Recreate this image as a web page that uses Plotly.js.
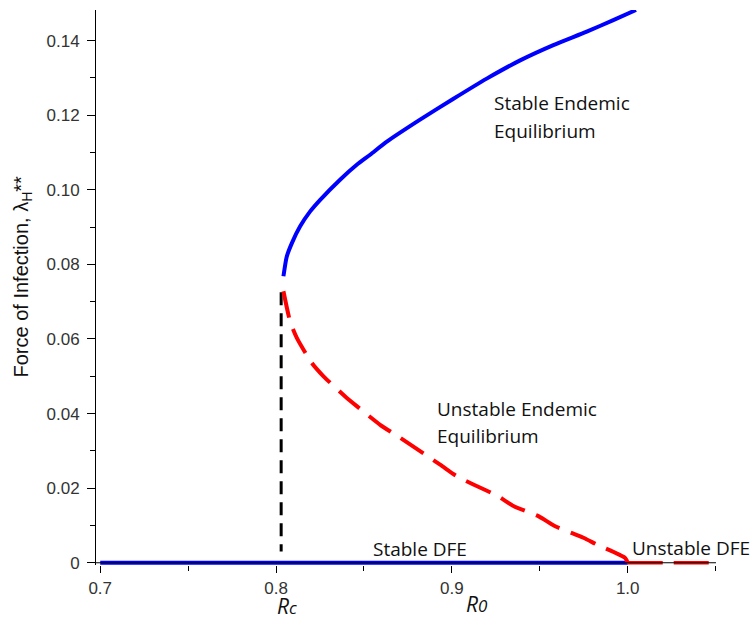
<!DOCTYPE html>
<html>
<head>
<meta charset="utf-8">
<script src="https://cdn.plot.ly/plotly-3.0.1.min.js"></script>
<style>html,body{margin:0;padding:0;background:#fff;}#chart{width:755px;height:619px;}</style>
</head>
<body>
<div id="chart"></div>
<script>
// Stable endemic equilibrium branch (R0, lambda_H**)
const stableR0  = [0.8042, 0.8061, 0.8090, 0.8137, 0.8194, 0.8251, 0.8364, 0.8459, 0.8535, 0.8630, 0.8819, 0.9009, 0.9198, 0.9388, 0.9577, 0.9767, 0.9918, 1.0047];
const stableLam = [0.0768, 0.0821, 0.0857, 0.0902, 0.0942, 0.0973, 0.1027, 0.1067, 0.1094, 0.1129, 0.1188, 0.1244, 0.1298, 0.1347, 0.1388, 0.1424, 0.1455, 0.1482];
// Unstable endemic equilibrium branch
const unstableR0  = [0.8042, 0.8080, 0.8118, 0.8203, 0.8270, 0.8393, 0.8459, 0.8592, 0.8706, 0.8933, 0.9028, 0.9122, 0.9264, 0.9350, 0.9492, 0.9587, 0.9748, 0.9824, 0.9985, 1.0];
const unstableLam = [0.0728, 0.0647, 0.0603, 0.0536, 0.0500, 0.0446, 0.0420, 0.0370, 0.0335, 0.0263, 0.0232, 0.0210, 0.0178, 0.0152, 0.0125, 0.0098, 0.0067, 0.0049, 0.0013, 0.0];
// Disease-free equilibrium
const dfeStableR0    = [0.7, 1.0];
const dfeStableLam   = [0, 0];
const dfeUnstableR0  = [1.0, 1.05];
const dfeUnstableLam = [0, 0];
// Critical value Rc marker line
const rcR0  = [0.8029, 0.8029];
const rcLam = [0.0725, 0.003];
// Ticks
const xTickVals = [0.7, 0.8, 0.9, 1.0];
const xTickText = ["0.7", "0.8", "0.9", "1.0"];
const yTickVals = [0, 0.02, 0.04, 0.06, 0.08, 0.10, 0.12, 0.14];
const yTickText = ["0", "0.02", "0.04", "0.06", "0.08", "0.10", "0.12", "0.14"];
// Labels
const yTitle = "Force of Infection, λ<sub>H</sub>**";
const labelStableEE = ["Stable Endemic", "Equilibrium"];
const labelUnstableEE = ["Unstable Endemic", "Equilibrium"];
const labelStableDFE = "Stable DFE";
const labelUnstableDFE = "Unstable DFE";
const labelRc = "<i>R<span style=\"font-size:17px\">c</span></i>";
const labelR0 = "<i>R<span style=\"font-size:17px\">0</span></i>";

const traces = [
  {x: dfeStableR0, y: dfeStableLam, mode: 'lines', line: {color: '#0000ff', width: 4}, hoverinfo: 'skip'},
  {x: dfeUnstableR0, y: dfeUnstableLam, mode: 'lines', line: {color: '#ff0000', width: 3.5, dash: '35px,11px'}, hoverinfo: 'skip'},
  {x: rcR0, y: rcLam, mode: 'lines', line: {color: '#000000', width: 3, dash: '13px,8px'}, hoverinfo: 'skip'},
  {x: unstableR0, y: unstableLam, mode: 'lines', line: {color: '#ff0000', width: 4, dash: '27px,12px', shape: 'spline', smoothing: 0.6}, hoverinfo: 'skip'},
  {x: stableR0, y: stableLam, mode: 'lines', line: {color: '#0000ff', width: 4, shape: 'spline', smoothing: 0.6}, hoverinfo: 'skip'}
];

const annFont = {family: 'Open Sans, Noto Sans, sans-serif', size: 19, color: '#111'};
const ann = (text, x, y, extra) => Object.assign({text: text, x: x, y: y, xref: 'x', yref: 'y', showarrow: false, xanchor: 'left', yanchor: 'middle', font: annFont}, extra || {});

const layout = {
  width: 755, height: 619,
  margin: {l: 96, r: 39, t: 10, b: 54, pad: 0},
  paper_bgcolor: '#ffffff', plot_bgcolor: '#ffffff',
  showlegend: false,
  xaxis: {
    range: [0.6976, 1.0502], showgrid: false, zeroline: false, showline: false,
    tickmode: 'array', tickvals: xTickVals, ticktext: xTickText,
    ticks: 'outside', ticklen: 7, tickwidth: 1, tickcolor: '#000',
    ticklabelstandoff: 1,
    minor: {tickmode: 'linear', tick0: 0, dtick: 0.05, ticks: 'outside', ticklen: 5, tickcolor: '#000', showgrid: false},
    tickfont: {family: 'Liberation Sans, Arial, sans-serif', size: 17, color: '#333'}
  },
  yaxis: {
    range: [-0.0006, 0.1482], showgrid: false, zeroline: false, showline: true, linecolor: '#000', linewidth: 1,
    tickmode: 'array', tickvals: yTickVals, ticktext: yTickText,
    ticks: 'outside', ticklen: 8, tickwidth: 1, tickcolor: '#000',
    ticklabelstandoff: 4,
    minor: {tickmode: 'linear', tick0: 0, dtick: 0.01, ticks: 'outside', ticklen: 5, tickcolor: '#000', showgrid: false},
    tickfont: {family: 'Liberation Sans, Arial, sans-serif', size: 17, color: '#333'}
  },
  shapes: [
    {type: 'line', xref: 'paper', yref: 'y', x0: 0, x1: 1, y0: 0, y1: 0, line: {color: '#000', width: 1}, layer: 'above'}
  ],
  annotations: [
    {text: yTitle, xref: 'paper', yref: 'paper', x: (22 - 96) / 620, y: (565 - 276.5) / 555, showarrow: false,
     textangle: -90, xanchor: 'center', yanchor: 'middle', font: {family: 'Liberation Sans, Arial, sans-serif', size: 20, color: '#111'}},
    ann(labelStableEE[0], 0.9229, 0.1232),
    ann(labelStableEE[1], 0.9229, 0.1158),
    ann(labelUnstableEE[0], 0.8904, 0.0413),
    ann(labelUnstableEE[1], 0.8904, 0.0341),
    ann(labelStableDFE, 0.8541, 0.0037),
    ann(labelUnstableDFE, 1.0013, 0.0039),
    ann(labelRc, 0.7992, (565 - 606) / 555, {yref: 'paper', font: Object.assign({}, annFont, {size: 21})}),
    ann(labelR0, 0.9068, (565 - 604) / 555, {yref: 'paper', font: Object.assign({}, annFont, {size: 21})})
  ]
};

Plotly.newPlot('chart', traces, layout, {staticPlot: true, displayModeBar: false});
</script>
</body>
</html>
